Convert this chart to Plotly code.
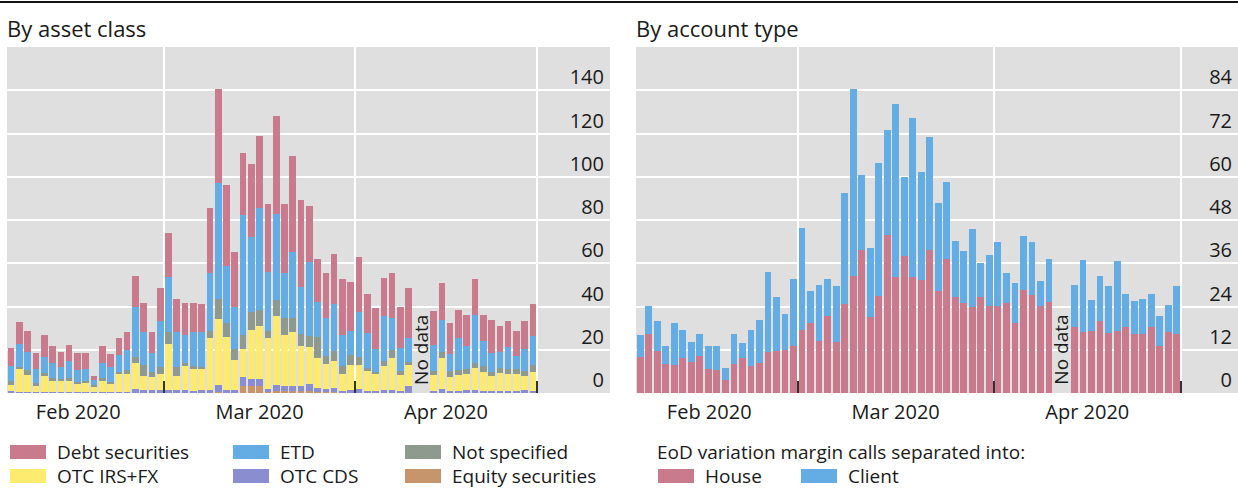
import pandas as pd
import plotly.graph_objects as go

# ---------------- data ----------------
days = [d.strftime("%Y-%m-%d") for d in pd.bdate_range("2020-02-03", "2020-04-30")]
N = None

# Left panel: by asset class (stacked bottom -> top)
equity = [0.2, 0.2, 0.2, 0.2, 0.2, 0.2, 0.2, 0.2, 0.2, 0.2, 0.2, 0.2, 0.2, 0.2, 0.2, 0.2,
          0.2, 0.2, 0.2, 0.2, 0.2, 0.2, 0.2, 0.2, 0.2, 0.5, 0.2, 0.2, 3.4, 3.2, 3.2, 0.3,
          1.0, 0.8, 0.8, 0.8, 0.8, 0.3, 0.3, 0.3, 0.2, 0.2, 0.2, 0.2, 0.2, 0.2, 0.2, 0.2,
          0.2, N, N, 0.2, 0.2, 0.2, 0.2, 0.2, 0.2, 0.2, 0.2, 0.2, 0.2, 0.2, 0.2, 0.2]
otc_cds = [0.5, 0.4, 0.4, 0.4, 0.4, 0.4, 0.4, 0.4, 0.4, 0.4, 0.4, 0.4, 0.4, 0.4, 0.4, 1.5,
           1.0, 1.0, 1.0, 1.0, 1.0, 1.0, 0.8, 1.0, 1.2, 3.0, 1.0, 1.2, 3.9, 3.1, 3.1, 1.5,
           2.5, 2.5, 2.5, 2.5, 3.5, 2.0, 1.5, 1.8, 0.8, 1.0, 1.5, 0.8, 0.6, 1.2, 1.2, 0.8,
           3.0, N, N, 0.8, 1.5, 0.8, 0.8, 1.0, 1.0, 0.8, 0.6, 0.6, 0.7, 0.8, 1.0, 0.6]
otc_irs_fx = [3.0, 10.3, 7.7, 2.6, 7.7, 5.4, 5.1, 5.4, 3.9, 4.2, 2.6, 5.4, 3.5, 8.5, 8.0, 12.0,
              6.8, 6.3, 7.4, 21.4, 6.8, 11.4, 10.1, 9.9, 24.2, 30.6, 24.5, 13.8, 12.9, 22.8, 24.7, 23.5,
              32.1, 23.5, 24.7, 18.6, 17.1, 13.7, 11.6, 12.7, 7.8, 11.7, 11.2, 9.3, 8.0, 11.1, 14.6, 7.3,
              9.7, N, N, 7.3, 14.6, 6.5, 7.3, 7.6, 10.2, 8.9, 7.1, 8.6, 7.9, 7.8, 6.7, 9.1]
not_specified = [2.0, 1.3, 2.3, 1.6, 0.8, 0.8, 0.8, 0.8, 0.7, 0.9, 0.3, 0.8, 1.1, 0.8, 2.0, 3.1,
                 4.9, 2.4, 3.3, 5.7, 4.2, 1.4, 1.5, 1.1, 3.2, 9.2, 6.5, 5.0, 6.6, 8.5, 7.4, 3.5,
                 7.4, 7.7, 6.5, 5.4, 4.9, 9.7, 3.8, 4.7, 3.8, 4.7, 3.6, 1.4, 1.1, 2.3, 3.9, 2.0,
                 1.6, N, N, 2.0, 2.8, 2.8, 2.3, 2.1, 2.6, 2.6, 1.6, 2.0, 2.1, 2.1, 2.4, 3.0]
etd = [6.8, 10.4, 8.5, 6.1, 7.7, 7.2, 5.4, 8.0, 5.4, 5.2, 2.3, 7.2, 7.0, 7.7, 9.3, 23.1,
       15.1, 8.4, 21.4, 25.5, 15.8, 12.8, 15.4, 15.8, 26.5, 53.6, 26.6, 19.7, 55.5, 34.6, 47.2, 27.3,
       40.0, 20.8, 30.5, 21.8, 34.4, 16.5, 17.3, 21.6, 14.2, 11.2, 21.1, 16.2, 10.3, 20.9, 14.6, 10.4,
       11.1, N, N, 11.9, 14.6, 7.7, 15.0, 10.8, 22.0, 11.7, 9.1, 7.7, 10.2, 6.2, 9.9, 13.4]
debt = [8.1, 10.1, 9.5, 7.7, 10.0, 7.9, 6.9, 7.4, 7.7, 7.4, 1.9, 7.7, 5.7, 8.0, 8.4, 14.2,
        13.4, 10.0, 15.1, 20.3, 15.7, 14.9, 13.4, 13.1, 30.3, 43.9, 37.6, 25.4, 28.9, 33.9, 33.2, 31.2,
        45.0, 32.0, 44.5, 40.1, 25.9, 19.7, 20.8, 23.0, 25.7, 22.6, 25.1, 17.8, 18.9, 17.3, 21.1, 19.2,
        23.1, N, N, 15.7, 17.0, 14.5, 12.8, 14.3, 16.5, 11.8, 15.1, 12.0, 12.2, 11.5, 13.1, 14.8]

# Right panel: by account type
house = [9.9, 16.4, 11.7, 8.0, 7.8, 9.6, 8.7, 10.3, 6.6, 6.4, 3.6, 8.0, 9.6, 7.6, 8.2, 11.5,
         11.6, 11.9, 13.0, 17.5, 19.3, 14.4, 21.3, 14.1, 24.6, 32.4, 39.6, 21.2, 27.0, 43.8, 32.3, 38.1,
         32.3, 31.3, 39.6, 28.4, 37.3, 26.7, 24.9, 23.9, 26.7, 24.1, 24.1, 24.9, 19.3, 28.7, 27.2, 24.1,
         25.3, N, N, 18.2, 16.8, 17.2, 20.0, 16.7, 17.2, 18.4, 16.5, 16.3, 18.4, 13.0, 17.0, 16.5]
client = [6.2, 7.8, 8.3, 5.1, 11.5, 7.9, 5.5, 6.0, 6.5, 6.7, 3.4, 8.3, 4.3, 9.9, 12.0, 22.0,
          15.1, 10.0, 18.6, 28.4, 9.0, 15.7, 10.3, 15.6, 30.9, 51.9, 21.0, 19.1, 36.7, 29.3, 47.8, 21.9,
          43.9, 29.9, 31.3, 24.2, 21.3, 15.5, 14.6, 21.5, 9.4, 14.2, 17.9, 8.3, 11.1, 14.8, 14.8, 7.0,
          12.0, N, N, 11.9, 20.0, 8.6, 12.5, 13.0, 19.5, 9.0, 9.1, 9.8, 9.0, 8.5, 7.4, 13.1]

month_labels = ["Feb 2020", "Mar 2020", "Apr 2020"]
month_label_pos = [8.1, 30, 52.5]      # slot positions of month labels
month_bounds = [18.5, 41.5, 63.5]      # slot positions of month separators
left_ticks = [0, 20, 40, 60, 80, 100, 120, 140]
right_ticks = [0, 12, 24, 36, 48, 60, 72, 84]

left_series = [
    ("Equity securities", equity, "#C6956B"),
    ("OTC CDS", otc_cds, "#8A8ED0"),
    ("OTC IRS+FX", otc_irs_fx, "#FDEB70"),
    ("Not specified", not_specified, "#8F9A8F"),
    ("ETD", etd, "#64ADE4"),
    ("Debt securities", debt, "#C97B8D"),
]
right_series = [
    ("House", house, "#C97B8D"),
    ("Client", client, "#64ADE4"),
]

# ---------------- figure ----------------
W, H = 1238, 488
FONT = "Open Sans"
TXT = "#1a1a1a"
x = list(range(len(days)))

fig = go.Figure()
for name, vals, col in left_series:
    fig.add_trace(go.Bar(x=x, y=vals, name=name, marker=dict(color=col, line=dict(width=0)),
                         customdata=days, hovertemplate="%{customdata}: %{y}<extra>" + name + "</extra>",
                         xaxis="x", yaxis="y", showlegend=False))
for name, vals, col in right_series:
    fig.add_trace(go.Bar(x=x, y=vals, name=name, marker=dict(color=col, line=dict(width=0)),
                         customdata=days, hovertemplate="%{customdata}: %{y}<extra>" + name + "</extra>",
                         xaxis="x2", yaxis="y2", showlegend=False))

ydom = [(H - 393) / H, (H - 47) / H]

def xaxis_cfg(domain, rng, anchor):
    return dict(domain=domain, range=rng, anchor=anchor, showgrid=False, zeroline=False,
                tickmode="array", tickvals=month_label_pos, ticktext=month_labels, ticks="",
                tickfont=dict(family=FONT, size=20, color=TXT), ticklabelstandoff=5,
                minor=dict(tickmode="array", tickvals=month_bounds, showgrid=True, gridcolor="white",
                           gridwidth=2, ticks="inside", ticklen=12, tickwidth=1.5, tickcolor="#333"),
                showline=False, fixedrange=True)

def yaxis_cfg(rng, tv, anchor):
    return dict(domain=ydom, range=rng, anchor=anchor, side="right", tickmode="array", tickvals=tv,
                showgrid=True, gridcolor="white", gridwidth=2, zeroline=False, showline=False,
                ticks="", ticklabelposition="inside", ticklabelshift=-13, ticklabelstandoff=3,
                tickfont=dict(family=FONT, size=20, color=TXT), fixedrange=True)

fig.update_layout(
    width=W, height=H,
    margin=dict(l=0, r=0, t=0, b=0),
    paper_bgcolor="white", plot_bgcolor="#DFDFDF",
    barmode="stack", bargap=0.2,
    font=dict(family=FONT, color=TXT),
    xaxis=xaxis_cfg([7 / W, 610 / W], [-0.5, 72.3], "y"),
    yaxis=yaxis_cfg([0, 160], left_ticks, "x"),
    xaxis2=xaxis_cfg([636 / W, 1.0], [-0.5, 70.2], "y2"),
    yaxis2=yaxis_cfg([0, 96], right_ticks, "x2"),
    showlegend=False,
)

def py(pix):
    return 1 - pix / H

def px(pix):
    return pix / W

shapes = [dict(type="line", xref="paper", yref="paper", x0=0, x1=1, y0=py(2), y1=py(2),
               line=dict(color="#111", width=2))]
annotations = [
    dict(text="By asset class", xref="paper", yref="paper", x=px(5), y=py(28), xanchor="left",
         yanchor="middle", showarrow=False, font=dict(family=FONT, size=22, color=TXT)),
    dict(text="By account type", xref="paper", yref="paper", x=px(634), y=py(28), xanchor="left",
         yanchor="middle", showarrow=False, font=dict(family=FONT, size=22, color=TXT)),
    dict(text="No data", xref="x", yref="y", x=49.5, y=20, textangle=-90, showarrow=False,
         font=dict(family=FONT, size=19, color=TXT)),
    dict(text="No data", xref="x2", yref="y2", x=49.4, y=12, textangle=-90, showarrow=False,
         font=dict(family=FONT, size=19, color=TXT)),
]

LEG = 19
R1, R2 = 452, 476
legend_left = [
    ("Debt securities", "#C97B8D", 10, R1), ("ETD", "#64ADE4", 233, R1), ("Not specified", "#8F9A8F", 405, R1),
    ("OTC IRS+FX", "#FDEB70", 10, R2), ("OTC CDS", "#8A8ED0", 233, R2), ("Equity securities", "#C6956B", 405, R2),
]
legend_right = [("House", "#C97B8D", 658, R2), ("Client", "#64ADE4", 801, R2)]
for label, col, lx, ly in legend_left + legend_right:
    shapes.append(dict(type="rect", xref="paper", yref="paper", x0=px(lx), x1=px(lx + 36),
                       y0=py(ly + 7), y1=py(ly - 7), fillcolor=col, line=dict(width=0)))
    annotations.append(dict(text=label, xref="paper", yref="paper", x=px(lx + 46), y=py(ly),
                            xanchor="left", yanchor="middle", showarrow=False, borderpad=0,
                            font=dict(family=FONT, size=LEG, color=TXT)))
annotations.append(dict(text="EoD variation margin calls separated into:", xref="paper", yref="paper",
                        x=px(656), y=py(R1), xanchor="left", yanchor="middle", showarrow=False,
                        borderpad=0, font=dict(family=FONT, size=LEG, color=TXT)))

fig.update_layout(shapes=shapes, annotations=annotations)
fig.write_html("out.html", config={"displayModeBar": False},
               post_script="document.body.style.margin='0';document.body.style.overflow='hidden';")
